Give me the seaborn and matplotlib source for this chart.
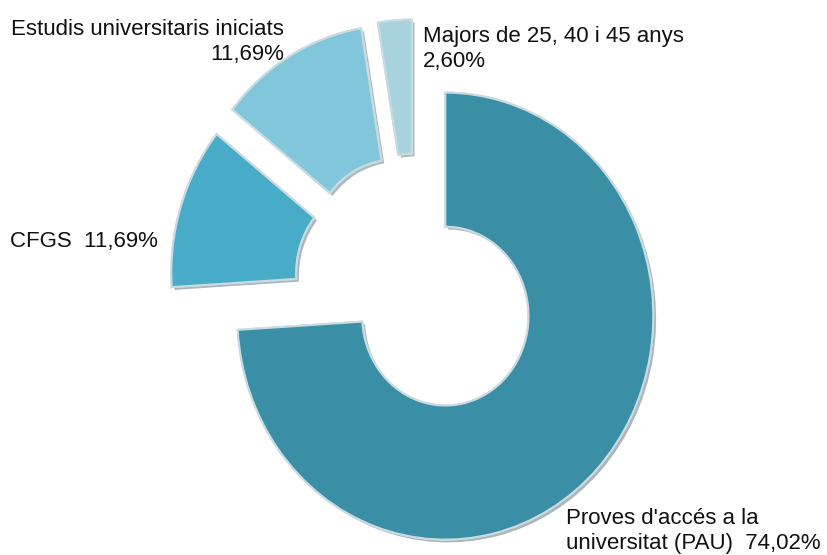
import matplotlib
matplotlib.use("Agg")
import matplotlib.pyplot as plt
import matplotlib.patheffects as pe
import seaborn as sns

# Data (shares in %)
categories = ["Proves d'accés a la\nuniversitat (PAU)", "CFGS",
              "Estudis universitaris iniciats", "Majors de 25, 40 i 45 anys"]
shares = [74.02, 11.69, 11.69, 2.60]
share_labels = ["74,02%", "11,69%", "11,69%", "2,60%"]
colors = ["#3a8ea6", "#48abc8", "#82c6dc", "#a9d2df"]
explode = [0.2, 0.18, 0.19, 0.19]

sns.set_theme(style="white")
plt.rcParams['font.family'] = ['Liberation Sans', 'DejaVu Sans']

W, H = 827, 555
fig = plt.figure(figsize=(W / 100, H / 100), dpi=100)
ax = fig.add_axes([0, 0, 1, 1])

wedges, _ = ax.pie(shares, colors=colors, startangle=90, counterclock=False,
                   explode=explode, radius=1.0,
                   wedgeprops=dict(width=0.6, edgecolor="#c9dbe1", linewidth=1.5))
for w in wedges:
    w.set_path_effects([pe.withSimplePatchShadow(offset=(2, -2), alpha=0.35),
                        pe.Normal()])

# the original donut is slightly stretched vertically:
# 208 px per unit across, 223.5 px per unit up, centre at pixel (415, 285.5)
sx, sy, cx, cy = 208, 223.5, 415, 285.5
ax.set_xlim(-cx / sx, (W - cx) / sx)
ax.set_ylim(-(H - cy) / sy, cy / sy)
ax.set_aspect('auto')
ax.axis('off')

fs = 16
def px(x, y):
    return x / W, 1 - y / H

fig.text(*px(284, 42), f"{categories[2]}\n{share_labels[2]}", ha='right', va='center',
         multialignment='right', fontsize=fs, linespacing=1.3, color='#111111')
fig.text(*px(423, 49), f"{categories[3]}\n{share_labels[3]}", ha='left', va='center',
         multialignment='left', fontsize=fs, linespacing=1.3, color='#111111')
fig.text(*px(10, 242), f"{categories[1]}  {share_labels[1]}", ha='left', va='center',
         fontsize=fs, color='#111111')
fig.text(*px(566, 531), f"{categories[0]}  {share_labels[0]}", ha='left', va='center',
         multialignment='left', fontsize=fs, linespacing=1.3, color='#111111')

fig.savefig("out.png", dpi=100, facecolor='white')
